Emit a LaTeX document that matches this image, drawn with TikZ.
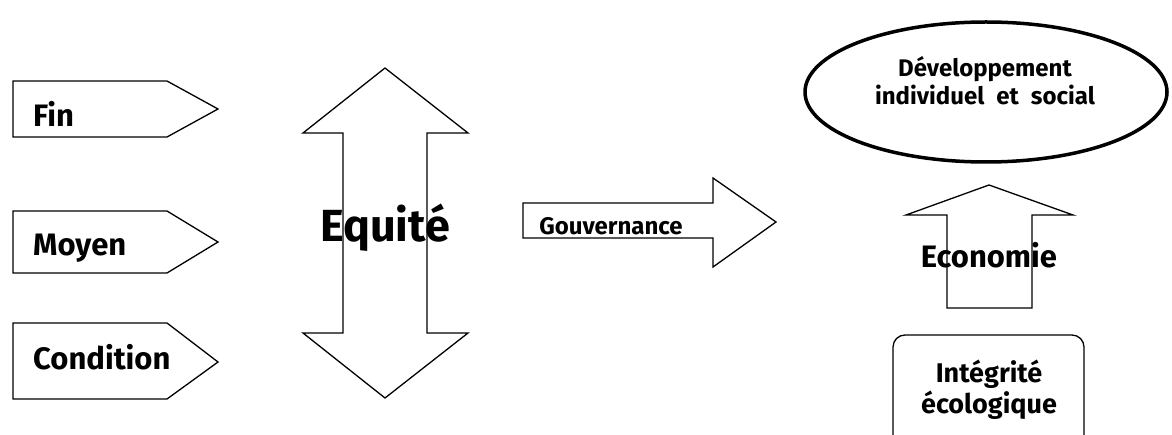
\documentclass[tikz,border=0pt]{standalone}
\usepackage{fontspec}
\setmainfont{Fira Sans}
\usetikzlibrary{shapes.geometric}
\begin{document}
\begin{tikzpicture}[x=1pt,y=-1pt]
\tikzset{
  shapeline/.style={draw=black,line width=1.3pt,line join=miter},
  lbl/.style={inner sep=0pt,font=\bfseries\fontsize{31}{34}\selectfont},
  govlbl/.style={inner sep=0pt,font=\bfseries\fontsize{24}{28}\selectfont},
  biglbl/.style={inner sep=0pt,font=\bfseries\fontsize{45}{48}\selectfont},
  devlbl/.style={inner sep=0pt,font=\bfseries\fontsize{24}{28}\selectfont},
  intlbl/.style={inner sep=0pt,font=\bfseries\fontsize{27}{30}\selectfont}
}
\useasboundingbox (0,0) rectangle (1172,435);
\clip (0,0) rectangle (1172,435);
% pentagon labels
\draw[shapeline] (13,81) -- (167,81) -- (218,109) -- (167,137) -- (13,137) -- cycle;
\draw[shapeline] (13,211) -- (167,211) -- (218,242) -- (167,273) -- (13,273) -- cycle;
\draw[shapeline] (13,323) -- (167,323) -- (218,362) -- (167,399) -- (13,399) -- cycle;
\node[lbl,anchor=base west] (fin) at (33,127) {Fin};
\node[lbl,anchor=base west] (moyen) at (33,256) {Moyen};
\node[lbl,anchor=base west] (condition) at (33,370) {Condition};
% Equite double arrow
\draw[shapeline] (385,68) -- (468,133) -- (427,133) -- (427,333) -- (468,333) -- (385,398)
  -- (303,333) -- (343,333) -- (343,133) -- (303,133) -- cycle;
\node[biglbl,anchor=base] (equite) at (385,242) {Equité};
% Gouvernance arrow
\draw[shapeline] (523,203) -- (713,203) -- (713,178) -- (776,222) -- (713,267) -- (713,238) -- (523,238) -- cycle;
\node[govlbl,anchor=base] (gouv) at (611,235) {Gouvernance};
% Economie arrow
\draw[shapeline] (989,185) -- (1073,215) -- (1032,215) -- (1032,308) -- (947,308) -- (947,215) -- (906,215) -- cycle;
\node[lbl,anchor=base] (eco) at (989,268) {Economie};
% ellipse
\node[ellipse,draw=black,line width=3.5pt,minimum width=362pt,minimum height=140pt,inner sep=0pt] (dev) at (986,92) {};
\node[devlbl,anchor=base] (dev1) at (985,77) {Développement};
\node[devlbl,anchor=base] (dev2) at (985,105) {individuel\hspace{0.5em}et\hspace{0.5em}social};
% integrity box
\draw[shapeline,rounded corners=12pt] (893,335) rectangle (1084,447);
\node[intlbl,anchor=base] (int1) at (989,382) {Intégrité};
\node[intlbl,anchor=base] (int2) at (989,413) {écologique};
\end{tikzpicture}
\end{document}
